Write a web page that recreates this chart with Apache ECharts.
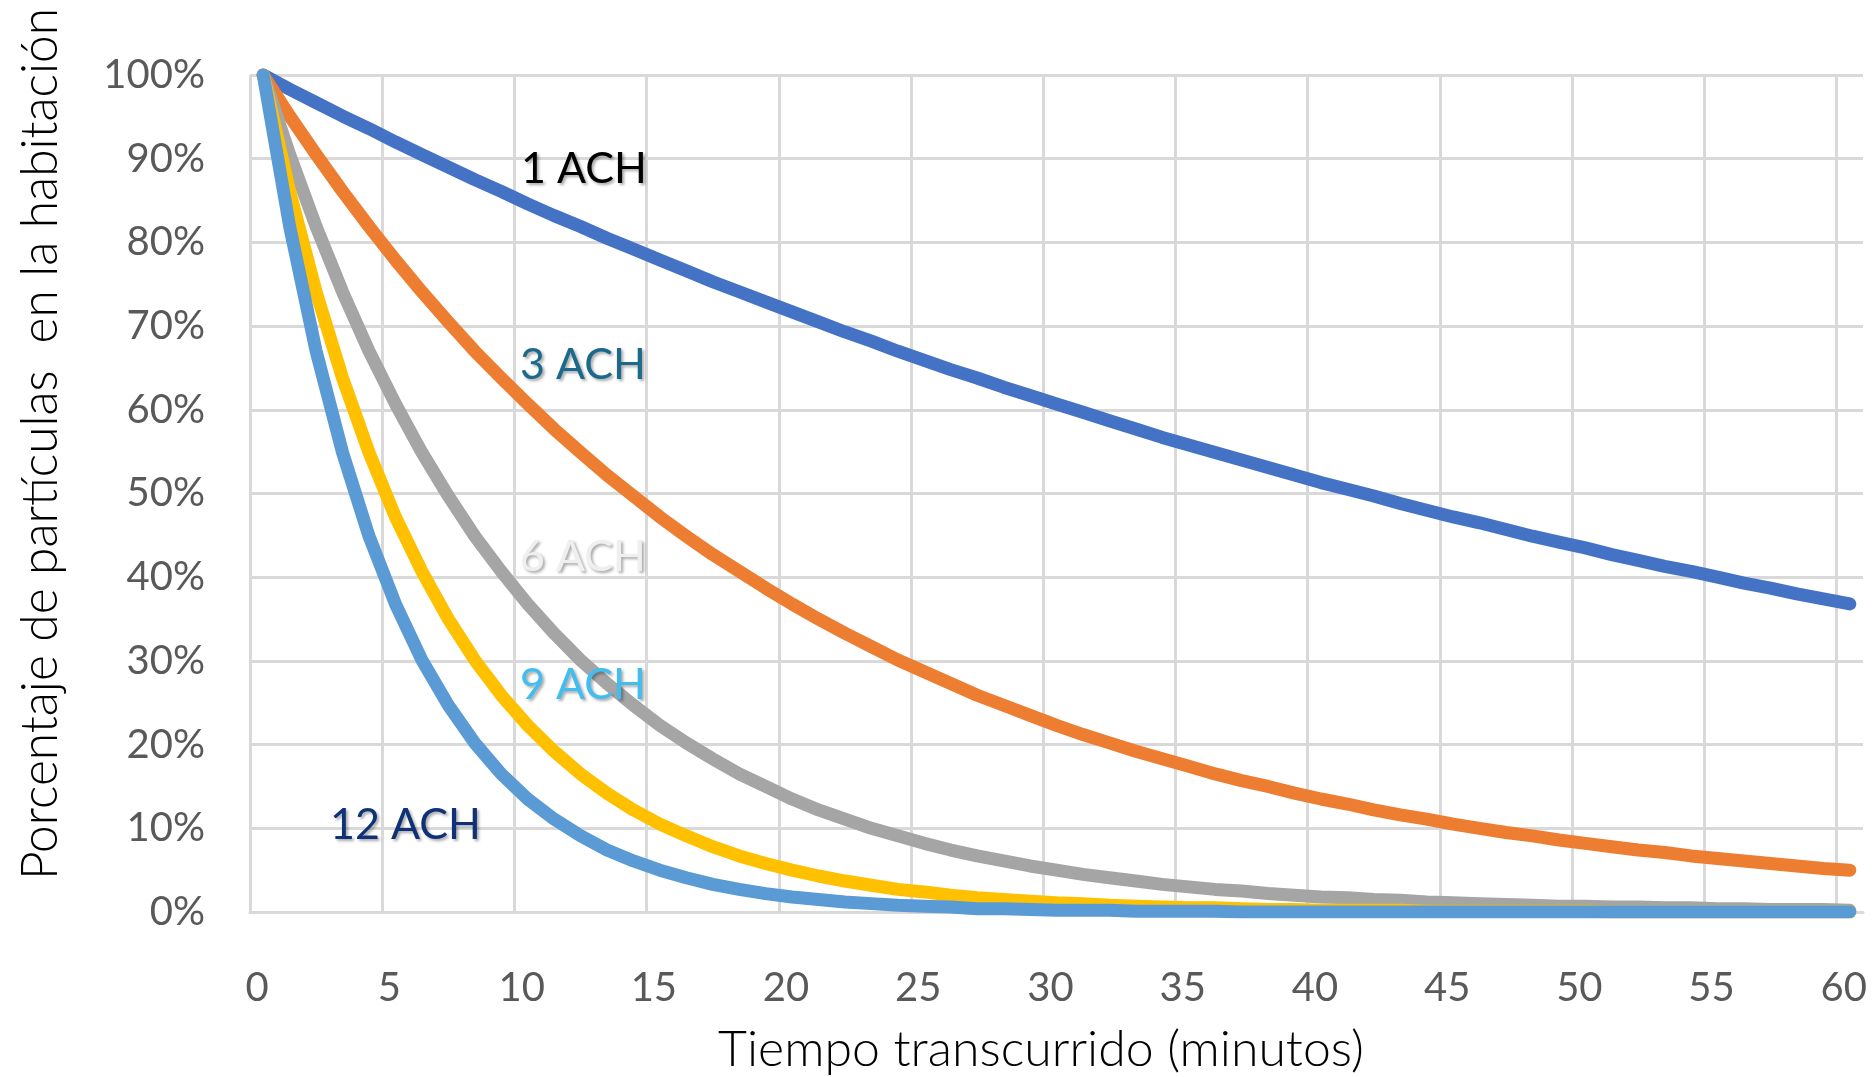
<!DOCTYPE html>
<html>
<head>
<meta charset="utf-8">
<title>Decaimiento de partículas según renovaciones de aire</title>
<script src="https://cdn.jsdelivr.net/npm/echarts@6/dist/echarts.min.js"></script>
<style>
  html, body { margin: 0; padding: 0; background: #ffffff; }
  #chart { width: 1875px; height: 1077px; }
</style>
</head>
<body>
<div id="chart"></div>
<script>
// Minutes elapsed (category axis, one entry per minute)
const minutes = ['0','1','2','3','4','5','6','7','8','9','10','11','12','13','14','15','16','17','18','19','20',
  '21','22','23','24','25','26','27','28','29','30','31','32','33','34','35','36','37','38','39','40',
  '41','42','43','44','45','46','47','48','49','50','51','52','53','54','55','56','57','58','59','60'];

// Percentage of particles remaining in the room, per minute
const ach1 = [100,98.3,96.7,95.1,93.6,92.0,90.5,89.0,87.5,86.1,84.6,83.2,81.9,80.5,79.2,77.9,76.6,75.3,74.1,72.9,71.7,
  70.5,69.3,68.2,67.0,65.9,64.8,63.8,62.7,61.7,60.7,59.7,58.7,57.7,56.7,55.8,54.9,54.0,53.1,52.2,51.3,
  50.5,49.7,48.8,48.0,47.2,46.5,45.7,44.9,44.2,43.5,42.7,42.0,41.3,40.7,40.0,39.3,38.7,38.0,37.4,36.8];
const ach3 = [100,95.1,90.5,86.1,81.9,77.9,74.1,70.5,67.0,63.8,60.7,57.7,54.9,52.2,49.7,47.2,44.9,42.7,40.7,38.7,36.8,
  35.0,33.3,31.7,30.1,28.7,27.3,25.9,24.7,23.5,22.3,21.2,20.2,19.2,18.3,17.4,16.5,15.7,15.0,14.2,13.5,
  12.9,12.2,11.6,11.1,10.5,10.0,9.5,9.1,8.6,8.2,7.8,7.4,7.1,6.7,6.4,6.1,5.8,5.5,5.2,5.0];
const ach6 = [100,90.5,81.9,74.1,67.0,60.7,54.9,49.7,44.9,40.7,36.8,33.3,30.1,27.3,24.7,22.3,20.2,18.3,16.5,15.0,13.5,
  12.2,11.1,10.0,9.1,8.2,7.4,6.7,6.1,5.5,5.0,4.5,4.1,3.7,3.3,3.0,2.7,2.5,2.2,2.0,1.8,
  1.7,1.5,1.4,1.2,1.1,1.0,0.9,0.8,0.7,0.7,0.6,0.6,0.5,0.5,0.4,0.4,0.3,0.3,0.3,0.2];
const ach9 = [100,86.1,74.1,63.8,54.9,47.2,40.7,35.0,30.1,25.9,22.3,19.2,16.5,14.2,12.2,10.5,9.1,7.8,6.7,5.8,5.0,
  4.3,3.7,3.2,2.7,2.4,2.0,1.7,1.5,1.3,1.1,1.0,0.8,0.7,0.6,0.5,0.5,0.4,0.3,0.3,0.2,
  0.2,0.2,0.2,0.1,0.1,0.1,0.1,0.1,0.1,0.1,0,0,0,0,0,0,0,0,0,0];
const ach12 = [100,81.9,67.0,54.9,44.9,36.8,30.1,24.7,20.2,16.5,13.5,11.1,9.1,7.4,6.1,5.0,4.1,3.3,2.7,2.2,1.8,
  1.5,1.2,1.0,0.8,0.7,0.6,0.4,0.4,0.3,0.2,0.2,0.2,0.1,0.1,0.1,0.1,0,0,0,0,
  0,0,0,0,0,0,0,0,0,0,0,0,0,0,0,0,0,0,0,0];

const seriesNames = ['1 ACH', '3 ACH', '6 ACH', '9 ACH', '12 ACH'];
const seriesColors = ['#4472C4', '#ED7D31', '#A5A5A5', '#FFC000', '#5B9BD5'];
const seriesData = [ach1, ach3, ach6, ach9, ach12];

const gridColor = '#D9D9D9';
const tickColor = '#595959';

// Vertical grid lines sit on category boundaries every 5 minutes; the extra
// boundary ECharts adds at the right edge is left transparent.
const vLineColors = [];
for (let i = 0; i < 13; i++) vLineColors.push(gridColor);
vLineColors.push('rgba(0,0,0,0)');

const labelShadow = {
  textShadowColor: 'rgba(0,0,0,0.35)',
  textShadowBlur: 3,
  textShadowOffsetX: 2,
  textShadowOffsetY: 2
};

function curveLabel(text, color, x, y) {
  return {
    type: 'text',
    x: x,
    y: y,
    z: 100,
    style: Object.assign({
      text: text,
      fill: color,
      font: '43px Lato',
      textAlign: 'left',
      align: 'left',
      textVerticalAlign: 'middle',
      verticalAlign: 'middle'
    }, labelShadow)
  };
}

const chart = echarts.init(document.getElementById('chart'), null, { renderer: 'canvas' });

chart.setOption({
  backgroundColor: '#ffffff',
  animation: false,
  grid: { left: 250, right: 12, top: 75, bottom: 165, containLabel: false },
  xAxis: {
    type: 'category',
    data: minutes,
    boundaryGap: true,
    axisLine: { show: true, lineStyle: { color: gridColor, width: 3 } },
    axisTick: { show: false },
    axisLabel: {
      interval: 4,
      color: tickColor,
      fontFamily: 'Lato',
      fontSize: 40,
      margin: 56,
      padding: [0, 12, 0, 0]
    },
    splitLine: {
      show: true,
      interval: 4,
      lineStyle: { color: vLineColors, width: 3 }
    }
  },
  yAxis: {
    type: 'value',
    min: 0,
    max: 100,
    interval: 10,
    axisLine: { show: false },
    axisTick: { show: false },
    axisLabel: {
      formatter: '{value}%',
      color: tickColor,
      fontFamily: 'Lato',
      fontSize: 40,
      margin: 45
    },
    splitLine: { show: true, lineStyle: { color: gridColor, width: 3 } }
  },
  series: seriesData.map(function (d, i) {
    return {
      name: seriesNames[i],
      type: 'line',
      data: d,
      showSymbol: false,
      symbol: 'none',
      smooth: false,
      clip: true,
      lineStyle: { color: seriesColors[i], width: 13, cap: 'round', join: 'round' },
      itemStyle: { color: seriesColors[i] },
      z: 2 + i
    };
  }),
  graphic: [
    {
      type: 'text',
      x: 40,
      y: 444,
      rotation: Math.PI / 2,
      scaleX: 0.955,
      style: {
        text: 'Porcentaje de partículas  en la habitación',
        fill: '#000000',
        font: '300 52px Lato',
        textAlign: 'center',
        align: 'center',
        textVerticalAlign: 'middle',
        verticalAlign: 'middle'
      }
    },
    {
      type: 'text',
      x: 1041,
      y: 1050,
      style: {
        text: 'Tiempo transcurrido (minutos)',
        fill: '#000000',
        font: '300 50px Lato',
        textAlign: 'center',
        align: 'center',
        textVerticalAlign: 'middle',
        verticalAlign: 'middle'
      }
    },
    curveLabel('1 ACH', '#000000', 521, 169),
    curveLabel('3 ACH', '#1B6A8C', 520, 365),
    curveLabel('6 ACH', '#EFEFEF', 520, 557),
    curveLabel('9 ACH', '#41BDEF', 520, 685),
    curveLabel('12 ACH', '#0F3178', 330, 825)
  ]
});
</script>
</body>
</html>
